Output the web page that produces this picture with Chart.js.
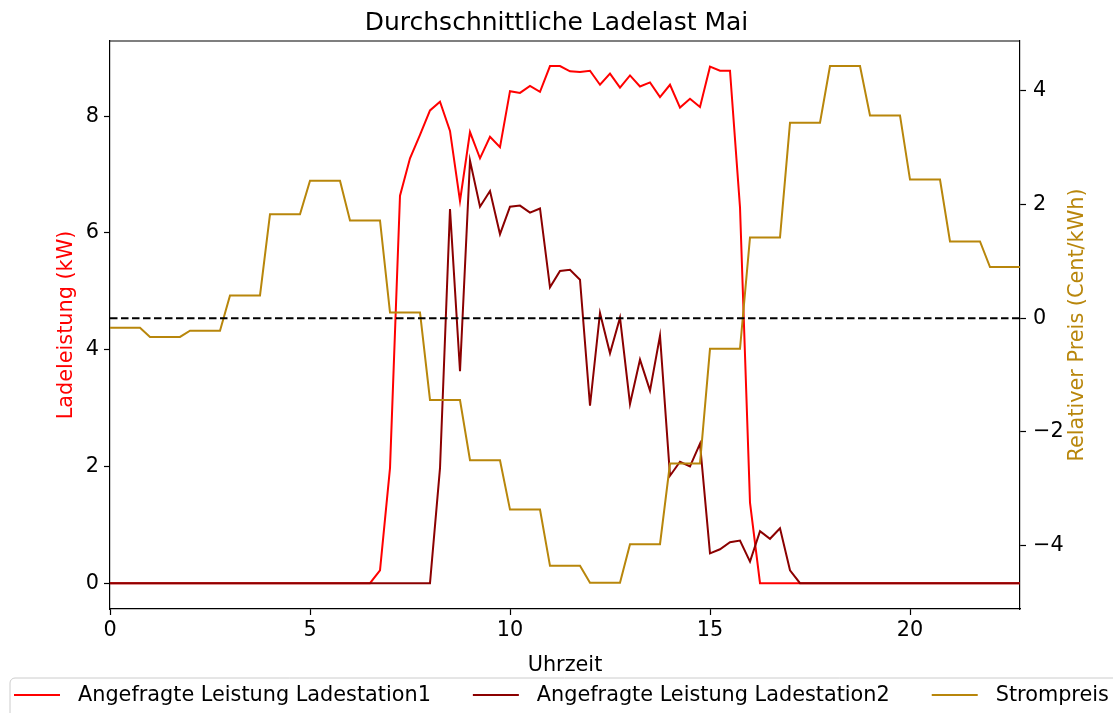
<!DOCTYPE html>
<html>
<head>
<meta charset="utf-8">
<script src="https://cdn.jsdelivr.net/npm/chart.js@4/dist/chart.umd.min.js"></script>
<style>
  body { margin: 0; background: #fff; }
  #wrap { width: 1113px; height: 713px; }
</style>
</head>
<body>
<div id="wrap"><canvas id="ladelast" width="1113" height="713"></canvas></div>
<script>
// Viertelstunden 0 - 22.75 Uhr
var uhrzeit = [
	0, 0.25, 0.5, 0.75, 1, 1.25, 1.5, 1.75, 2, 2.25, 2.5, 2.75,
	3, 3.25, 3.5, 3.75, 4, 4.25, 4.5, 4.75, 5, 5.25, 5.5, 5.75,
	6, 6.25, 6.5, 6.75, 7, 7.25, 7.5, 7.75, 8, 8.25, 8.5, 8.75,
	9, 9.25, 9.5, 9.75, 10, 10.25, 10.5, 10.75, 11, 11.25, 11.5, 11.75,
	12, 12.25, 12.5, 12.75, 13, 13.25, 13.5, 13.75, 14, 14.25, 14.5, 14.75,
	15, 15.25, 15.5, 15.75, 16, 16.25, 16.5, 16.75, 17, 17.25, 17.5, 17.75,
	18, 18.25, 18.5, 18.75, 19, 19.25, 19.5, 19.75, 20, 20.25, 20.5, 20.75,
	21, 21.25, 21.5, 21.75, 22, 22.25, 22.5, 22.75
]

// Angefragte Leistung Ladestation1 (kW)
var ladestation1 = [
	0, 0, 0, 0,  0, 0, 0, 0,  0, 0, 0, 0,  0, 0, 0, 0,
	0, 0, 0, 0,  0, 0, 0, 0,  0, 0, 0, 0.22,
	1.97, 6.64, 7.28, 7.68,  8.10, 8.25, 7.75, 6.55,
	7.73, 7.28, 7.65, 7.47,  8.43, 8.40, 8.52, 8.42,
	8.86, 8.86, 8.77, 8.76,  8.78, 8.54, 8.73, 8.49,
	8.70, 8.51, 8.58, 8.33,  8.54, 8.15, 8.30, 8.16,
	8.85, 8.78, 8.78, 6.44,  1.38, 0, 0, 0,
	0, 0, 0, 0,  0, 0, 0, 0,  0, 0, 0, 0,
	0, 0, 0, 0,  0, 0, 0, 0,  0, 0, 0, 0
]

// Angefragte Leistung Ladestation2 (kW)
var ladestation2 = [
	0, 0, 0, 0,  0, 0, 0, 0,  0, 0, 0, 0,  0, 0, 0, 0,
	0, 0, 0, 0,  0, 0, 0, 0,  0, 0, 0, 0,  0, 0, 0, 0,
	0, 1.97, 6.41, 3.63,  7.24, 6.45, 6.72, 5.98,
	6.45, 6.47, 6.35, 6.42,  5.07, 5.35, 5.37, 5.20,
	3.04, 4.63, 3.94, 4.55,  3.07, 3.83, 3.30, 4.24,
	1.84, 2.08, 2.00, 2.39,  0.51, 0.58, 0.70, 0.73,
	0.37, 0.89, 0.76, 0.94,  0.22, 0, 0, 0,
	0, 0, 0, 0,  0, 0, 0, 0,  0, 0, 0, 0,
	0, 0, 0, 0,  0, 0, 0, 0
]

// Relativer Strompreis (Cent/kWh), stundenweise
var strompreis = [
	-0.17, -0.17, -0.17, -0.17,  -0.33, -0.33, -0.33, -0.33,
	-0.22, -0.22, -0.22, -0.22,  0.40, 0.40, 0.40, 0.40,
	1.83, 1.83, 1.83, 1.83,  2.42, 2.42, 2.42, 2.42,
	1.72, 1.72, 1.72, 1.72,  0.10, 0.10, 0.10, 0.10,
	-1.44, -1.44, -1.44, -1.44,  -2.50, -2.50, -2.50, -2.50,
	-3.37, -3.37, -3.37, -3.37,  -4.36, -4.36, -4.36, -4.36,
	-4.66, -4.66, -4.66, -4.66,  -3.98, -3.98, -3.98, -3.98,
	-2.56, -2.56, -2.56, -2.56,  -0.54, -0.54, -0.54, -0.54,
	1.42, 1.42, 1.42, 1.42,  3.44, 3.44, 3.44, 3.44,
	4.44, 4.44, 4.44, 4.44,  3.57, 3.57, 3.57, 3.57,
	2.44, 2.44, 2.44, 2.44,  1.35, 1.35, 1.35, 1.35,
	0.90, 0.90, 0.90, 0.90
]

var xTicks = [0, 5, 10, 15, 20]
var leftTicks = [0, 2, 4, 6, 8]
var rightTicks = [-4, -2, 0, 2, 4]

var schrift = 'DejaVu Sans'
var gold = '#b8860b'

function punkte(werte) {
	return uhrzeit.map((t, i) => ({ x: t, y: werte[i] }))
}

function achsenLinien() {
	return {
		display: true,
		drawOnChartArea: false,
		drawTicks: true,
		tickLength: 6,
		tickColor: '#000',
		tickWidth: 1.2
	}
}

// Rahmen oben, rechte Achsenbeschriftung und Legende unten
var extras = {
	id: 'extras',
	afterDraw: function(chart) {
		var ctx = chart.ctx
		var a = chart.chartArea
		ctx.save()
		ctx.strokeStyle = '#000'
		ctx.lineWidth = 1.2
		ctx.beginPath()
		ctx.moveTo(a.left, a.top)
		ctx.lineTo(a.right, a.top)
		ctx.stroke()

		ctx.translate(1078, (a.top + a.bottom) / 2)
		ctx.rotate(-Math.PI / 2)
		ctx.fillStyle = gold
		ctx.font = '20.8px "' + schrift + '"'
		ctx.textAlign = 'center'
		ctx.textBaseline = 'middle'
		ctx.fillText('Relativer Preis (Cent/kWh)', 0, 0)
		ctx.restore()

		ctx.save()
		ctx.beginPath()
		ctx.roundRect(10, 678, 1140, 60, 5)
		ctx.fillStyle = 'rgba(255,255,255,0.8)'
		ctx.fill()
		ctx.strokeStyle = '#cccccc'
		ctx.lineWidth = 1
		ctx.stroke()
		ctx.font = '20.8px "' + schrift + '"'
		ctx.textBaseline = 'middle'
		var x = 14
		chart.data.datasets.filter(d => d.label).forEach(d => {
			ctx.strokeStyle = d.borderColor
			ctx.lineWidth = 2
			ctx.beginPath()
			ctx.moveTo(x, 695)
			ctx.lineTo(x + 46, 695)
			ctx.stroke()
			ctx.fillStyle = '#000'
			ctx.fillText(d.label, x + 64, 696)
			x += 64 + ctx.measureText(d.label).width + 42
		})
		ctx.restore()
	}
}

var ctx = document.getElementById('ladelast').getContext('2d')
var chart = new Chart(ctx, {
	type: 'line',
	data: {
		datasets: [{
			label: 'Angefragte Leistung Ladestation1',
			data: punkte(ladestation1),
			borderColor: '#ff0000',
			borderWidth: 2,
			yAxisID: 'y',
			order: 4
		}, {
			label: 'Angefragte Leistung Ladestation2',
			data: punkte(ladestation2),
			borderColor: '#8b0000',
			borderWidth: 2,
			yAxisID: 'y',
			order: 3
		}, {
			label: 'Strompreis',
			data: punkte(strompreis),
			borderColor: gold,
			borderWidth: 2,
			yAxisID: 'y1',
			order: 1
		}, {
			// Nulllinie Strompreis
			data: [{ x: uhrzeit[0], y: 0 }, { x: uhrzeit[uhrzeit.length - 1], y: 0 }],
			borderColor: '#000',
			borderWidth: 2,
			borderDash: [7.5, 3.5],
			yAxisID: 'y1',
			order: 0
		}]
	},
	options: {
		responsive: false,
		animation: false,
		devicePixelRatio: 1,
		font: { family: schrift },
		elements: { point: { radius: 0 }, line: { tension: 0, fill: false } },
		layout: { padding: { left: 0, right: 0, top: 0, bottom: 35 } },
		plugins: {
			legend: { display: false },
			tooltip: { enabled: false },
			title: {
				display: true,
				text: 'Durchschnittliche Ladelast Mai',
				color: '#000',
				font: { family: schrift, size: 25, weight: 'normal' },
				padding: { top: 8, bottom: 3 }
			}
		},
		scales: {
			x: {
				type: 'linear',
				min: 0,
				max: 22.75,
				afterBuildTicks: s => { s.ticks = xTicks.map(v => ({ value: v })) },
				afterFit: s => { s.height = 69 },
				ticks: { color: '#000', font: { family: schrift, size: 20.8 }, padding: 3, maxRotation: 0 },
				grid: achsenLinien(),
				border: { display: true, color: '#000', width: 1.2 },
				title: { display: true, text: 'Uhrzeit', color: '#000', font: { family: schrift, size: 20.8 }, padding: { top: 7.5, bottom: 0 } }
			},
			y: {
				position: 'left',
				min: -0.443,
				max: 9.29,
				afterBuildTicks: s => { s.ticks = leftTicks.map(v => ({ value: v })) },
				afterFit: s => { s.width = 110 },
				ticks: { color: '#000', font: { family: schrift, size: 20.8 }, padding: 5 },
				grid: achsenLinien(),
				border: { display: true, color: '#000', width: 1.2 },
				title: { display: true, text: 'Ladeleistung (kW)', color: '#ff0000', font: { family: schrift, size: 20.8 }, padding: { top: 54, bottom: 0 } }
			},
			y1: {
				position: 'right',
				min: -5.12,
				max: 4.88,
				afterBuildTicks: s => { s.ticks = rightTicks.map(v => ({ value: v })) },
				afterFit: s => { s.width = 93 },
				ticks: {
					color: '#000',
					font: { family: schrift, size: 20.8 },
					padding: 7,
					callback: v => v < 0 ? '\u2212' + Math.abs(v) : String(v)
				},
				grid: achsenLinien(),
				border: { display: true, color: '#000', width: 1.2 }
			}
		}
	},
	plugins: [extras]
})
</script>
</body>
</html>
